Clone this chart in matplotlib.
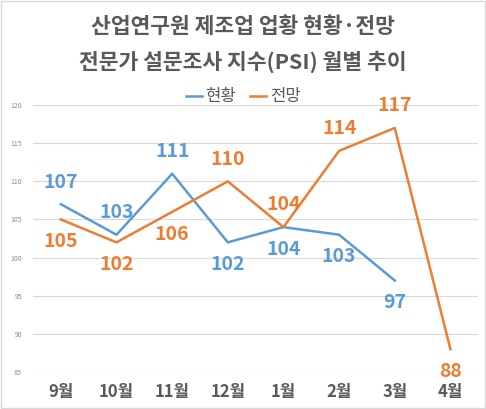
import matplotlib.pyplot as plt
from matplotlib.patches import Rectangle

plt.rcParams['font.family'] = ['Noto Sans CJK KR', 'DejaVu Sans']

months = ['9월', '10월', '11월', '12월', '1월', '2월', '3월', '4월']
current = [107, 103, 111, 102, 104, 103, 97]          # 현황
outlook = [105, 102, 106, 110, 104, 114, 117, 88]     # 전망

# label above (+1) or below (-1) the point
current_pos = [1, 1, 1, -1, -1, -1, -1]
outlook_pos = [-1, -1, -1, 1, 1, 1, 1, -1]

blue = '#5B9BD5'
orange = '#ED7D31'
grey = '#595959'

fig = plt.figure(figsize=(4.86, 4.09), dpi=100)
ax = fig.add_axes([0.068, 0.0905, 0.916, 0.6525])

x_cur = list(range(len(current)))
x_out = list(range(len(outlook)))
ax.plot(x_cur, current, color=blue, lw=1.8, label='현황')
ax.plot(x_out, outlook, color=orange, lw=1.8, label='전망')

for xs, ys, pos, c in [(x_cur, current, current_pos, blue),
                       (x_out, outlook, outlook_pos, orange)]:
    for x, y, p in zip(xs, ys, pos):
        ax.annotate(str(y), (x, y), xytext=(0, 16 * p), textcoords='offset points',
                    ha='center', va='center', fontsize=14, fontweight='bold', color=c)

ax.set_xlim(-0.5, len(months) - 0.5)
ax.set_ylim(85, 120)
ax.set_yticks([85, 90, 95, 100, 105, 110, 115, 120])
ax.set_xticks(x_out)
ax.set_xticklabels(months, fontsize=12, fontweight='bold', color=grey)
ax.tick_params(axis='y', labelsize=5, colors='#8c8c8c', length=0, pad=8)
ax.tick_params(axis='x', length=0, pad=8)
ax.grid(axis='y', color='#d9d9d9', lw=0.8)
ax.set_axisbelow(True)
for s in ax.spines.values():
    s.set_visible(False)

fig.text(0.5, 0.934, '산업연구원 제조업 업황 현황·전망', ha='center', va='center',
         fontsize=15.5, fontweight='bold', color=grey)
fig.text(0.5, 0.848, '전문가 설문조사 지수(PSI) 월별 추이', ha='center', va='center',
         fontsize=15.5, fontweight='bold', color=grey)

leg = fig.legend(loc='center', bbox_to_anchor=(0.5, 0.763), ncol=2, frameon=False,
                 fontsize=12, handlelength=1.0, handletextpad=0.2, columnspacing=0.8)
for t in leg.get_texts():
    t.set_color(grey)

fig.patches.append(Rectangle((0.002, 0.002), 0.996, 0.996, transform=fig.transFigure,
                             fill=False, edgecolor='#d9d9d9', lw=1))

fig.savefig('out.png', dpi=100)
